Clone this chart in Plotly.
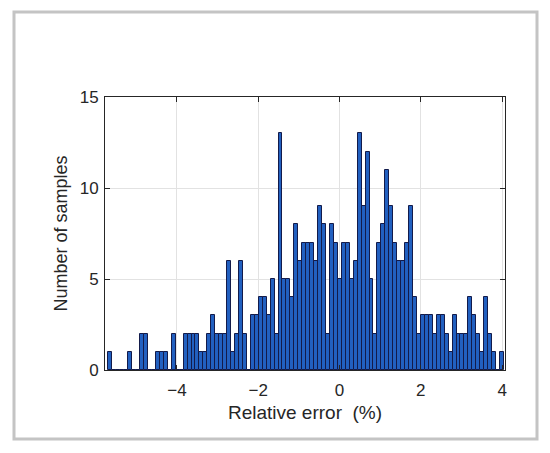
import numpy as np
import plotly.graph_objects as go

# Histogram of relative error (%), 100 equal-width bins
bin_start = -5.685      # left edge of first bin (%)
bin_width = 0.0973      # bin width (%)
counts = [
    1, 0, 0, 0, 0, 1, 0, 0, 2, 2,
    0, 0, 1, 1, 1, 0, 2, 0, 0, 2,
    2, 2, 2, 1, 1, 2, 3, 2, 2, 2,
    6, 1, 2, 6, 2, 0, 3, 3, 4, 4,
    3, 5, 2, 13, 5, 5, 4, 8, 6, 7,
    7, 7, 6, 9, 8, 2, 8, 7, 5, 7,
    7, 5, 6, 13, 9, 12, 5, 2, 7, 8,
    11, 9, 7, 6, 6, 7, 9, 4, 2, 3,
    3, 3, 2, 3, 3, 2, 1, 3, 2, 2,
    2, 4, 3, 2, 1, 4, 2, 1, 0, 1,
]
x_ticks = [-4, -2, 0, 2, 4]
y_ticks = [0, 5, 10, 15]
x_title = "Relative error\u00a0\u00a0(%)"
y_title = "Number of samples"

centers = bin_start + bin_width * (np.arange(len(counts)) + 0.5)

# page body adds an 8px margin, so the figure is drawn 8px in from the window edge
W, H = 534, 437
L, R, T, B = 97, 37, 89, 75
pw, ph = W - L - R, H - T - B

def px_to_paper_x(px):
    return (px - L) / pw

def px_to_paper_y(py):
    return (H - B - py) / ph

FONT = "Liberation Sans, Arial, sans-serif"
INK = "#262626"

fig = go.Figure()
fig.add_trace(go.Bar(
    x=centers, y=counts, width=bin_width,
    marker=dict(color="#2260c0", line=dict(color="#131b4a", width=1)),
    hoverinfo="x+y",
))

axis_common = dict(
    showline=True, linecolor=INK, linewidth=1, mirror="ticks",
    ticks="inside", ticklen=5, tickcolor=INK,
    showgrid=True, gridcolor="#e2e2e2", gridwidth=1,
    zeroline=False,
    tickfont=dict(family=FONT, size=17, color=INK),
)

fig.update_layout(
    width=W, height=H,
    margin=dict(l=L, r=R, t=T, b=B, autoexpand=False),
    paper_bgcolor="white", plot_bgcolor="white",
    bargap=0, showlegend=False,
    xaxis=dict(range=[-5.77, 4.07], tickvals=x_ticks, ticklabelstandoff=5,
               title=dict(text=x_title, standoff=6,
                          font=dict(family=FONT, size=19, color=INK)),
               **axis_common),
    yaxis=dict(range=[0, 15], tickvals=y_ticks, ticklabelstandoff=2,
               title=dict(text=y_title, standoff=7,
                          font=dict(family=FONT, size=18, color=INK)),
               **axis_common),
    shapes=[dict(
        type="rect", xref="paper", yref="paper",
        x0=px_to_paper_x(6), x1=px_to_paper_x(529),
        y0=px_to_paper_y(431), y1=px_to_paper_y(4),
        line=dict(color="#c4c4c4", width=3), fillcolor="rgba(0,0,0,0)",
        layer="below",
    )],
)

fig.write_html("out.html")
